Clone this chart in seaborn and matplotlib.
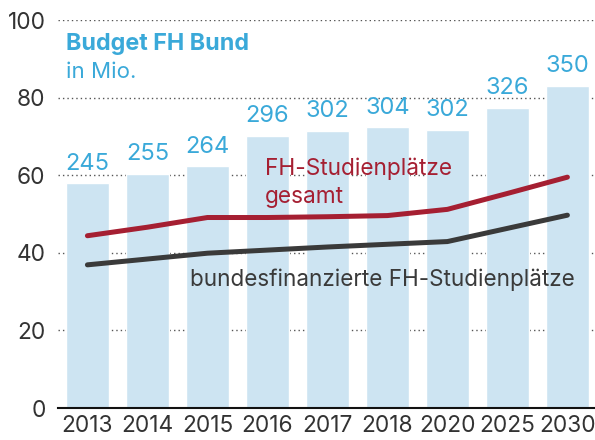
import matplotlib
matplotlib.use("Agg")
import matplotlib.pyplot as plt
import seaborn as sns
import pandas as pd

# values
years = ["2013", "2014", "2015", "2016", "2017", "2018", "2020", "2025", "2030"]
budget = [245, 255, 264, 296, 302, 304, 302, 326, 350]          # labels above bars (Mio.)
bar_height = [58.0, 60.4, 62.4, 70.2, 71.5, 72.3, 71.7, 77.4, 83.1]
places_total = [44.4, 46.6, 49.1, 49.1, 49.3, 49.6, 51.2, 55.3, 59.5]
places_federal = [36.9, 38.4, 39.9, 40.7, 41.5, 42.2, 42.9, 46.3, 49.7]

BLUE_BAR = "#cde4f2"
BLUE_TXT = "#3aa9d9"
RED = "#a51f32"
DARK = "#3a3a3a"

sns.set_theme(style="white")
plt.rcParams["font.family"] = ["Inter", "DejaVu Sans"]

df = pd.DataFrame({"year": years, "height": bar_height,
                   "total": places_total, "federal": places_federal})

fig = plt.figure(figsize=(5.95, 4.4), dpi=100)
ax = fig.add_axes([0.0975, 0.0727, 0.9025, 0.8818])

# dotted grid behind everything
for v in [20, 40, 60, 80, 100]:
    ax.axhline(v, color="#555555", lw=1.0, ls=(0, (1, 2.2)), zorder=0)

sns.barplot(data=df, x="year", y="height", color=BLUE_BAR, width=0.72,
            saturation=1, ax=ax, zorder=1)
ax.bar_label(ax.containers[0], labels=[str(b) for b in budget], padding=6,
             color=BLUE_TXT, fontsize=17)

sns.pointplot(data=df, x="year", y="total", color=RED, markers="",
              errorbar=None, ax=ax, linewidth=3.6, solid_capstyle="round")
sns.pointplot(data=df, x="year", y="federal", color=DARK, markers="",
              errorbar=None, ax=ax, linewidth=3.6, solid_capstyle="round")
for ln in ax.lines[-2:]:
    ln.set_zorder(3)

ax.set_xlim(-0.49, 8.46)
ax.set_ylim(0, 100)
ax.set_yticks([0, 20, 40, 60, 80, 100])
ax.set_xlabel("")
ax.set_ylabel("")
ax.tick_params(axis="both", length=0, labelsize=16.3, colors="#333333")
ax.tick_params(axis="y", pad=9)
ax.tick_params(axis="x", pad=5)
for s in ["top", "right", "left"]:
    ax.spines[s].set_visible(False)
ax.spines["bottom"].set_color("#111111")
ax.spines["bottom"].set_linewidth(1.5)
ax.spines["bottom"].set_zorder(4)

ax.text(-0.36, 92.3, "Budget FH Bund", color=BLUE_TXT, fontsize=16.8,
        fontweight="bold", va="baseline")
ax.text(-0.36, 85.0, "in Mio.", color=BLUE_TXT, fontsize=16, va="baseline")
ax.text(2.96, 60.0, "FH-Studienplätze", color=RED, fontsize=16.3, va="baseline")
ax.text(2.96, 52.8, "gesamt", color=RED, fontsize=16.3, va="baseline")
ax.text(1.71, 31.4, "bundesfinanzierte FH-Studienplätze", color=DARK,
        fontsize=16.2, va="baseline")

fig.savefig("out.png", dpi=100)
